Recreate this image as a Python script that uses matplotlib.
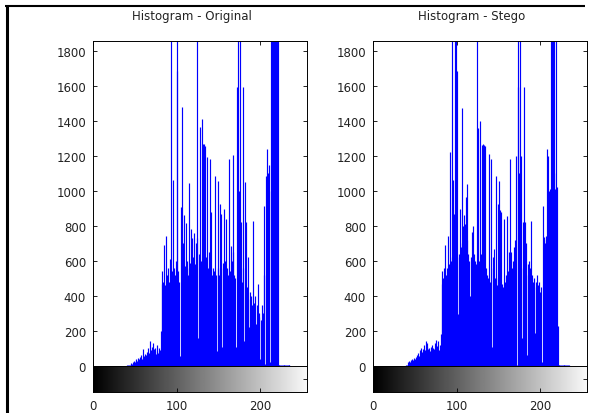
import matplotlib
matplotlib.use('Agg')
import matplotlib.pyplot as plt
import numpy as np
from matplotlib.lines import Line2D

# ---------------- data (counts per gray level 0..255) ----------------
titles = ["Histogram - Original", "Histogram - Stego"]
y_ticks = [0, 200, 400, 600, 800, 1000, 1200, 1400, 1600, 1800]
x_ticks = [0, 100, 200]

orig_counts = [
    0, 0, 0, 0, 0, 0, 0, 0, 0, 0, 0, 0, 0, 0, 0, 0,
    0, 0, 0, 0, 0, 0, 0, 0, 0, 0, 0, 0, 0, 0, 0, 0,
    0, 0, 0, 0, 0, 0, 0, 0, 2, 3, 5, 8, 6, 12, 18, 14,
    25, 30, 22, 35, 40, 28, 45, 38, 52, 48, 60, 42, 95, 55, 70, 62,
    80, 58, 100, 75, 140, 90, 110, 85, 130, 95, 105, 70, 120, 88, 75, 100,
    90, 200, 470, 545, 480, 690, 460, 740, 520, 450, 560, 480, 610, 2600, 125, 540,
    1063, 560, 520, 600, 2400, 1687, 540, 480, 59, 910, 1482, 560, 700, 860, 570, 815,
    600, 560, 520, 1045, 590, 780, 51, 730, 620, 760, 580, 700, 2800, 730, 160, 640,
    1364, 600, 1411, 1269, 150, 1270, 1255, 620, 1192, 560, 90, 650, 1183, 878, 520, 560,
    480, 540, 1088, 520, 85, 560, 1059, 520, 925, 870, 110, 560, 590, 897, 600, 840,
    560, 520, 51, 1185, 540, 688, 600, 1203, 650, 520, 500, 110, 1592, 960, 2500, 1000,
    2300, 820, 480, 560, 1592, 140, 1049, 820, 450, 620, 380, 220, 420, 400, 350, 826,
    360, 320, 400, 240, 350, 470, 300, 280, 40, 260, 350, 300, 916, 520, 10, 1083,
    1240, 1100, 1000, 1150, 20, 2600, 3000, 2200, 5, 2800, 2400, 3200, 2000, 2600, 4, 5,
    3, 6, 4, 5, 3, 6, 4, 5, 3, 4, 5, 3, 0, 0, 0, 0,
    0, 0, 0, 0, 0, 0, 0, 0, 0, 0, 0, 0, 0, 0, 0, 0,
]

stego_counts = [
    0, 0, 0, 0, 0, 0, 0, 0, 0, 0, 0, 0, 0, 0, 0, 0,
    0, 0, 0, 0, 0, 0, 0, 0, 0, 0, 0, 0, 0, 0, 0, 0,
    0, 0, 0, 0, 0, 0, 0, 0, 3, 5, 20, 30, 25, 35, 28, 40,
    32, 45, 38, 50, 42, 60, 75, 55, 90, 65, 100, 80, 95, 120, 90, 145,
    110, 130, 95, 100, 85, 110, 90, 120, 105, 95, 130, 150, 115, 100, 140, 90,
    120, 180, 470, 545, 500, 560, 690, 520, 560, 60, 740, 580, 1225, 600, 2600, 620,
    1065, 870, 2400, 2200, 1687, 620, 297, 640, 897, 680, 1474, 700, 800, 860, 810, 963,
    720, 1040, 640, 600, 400, 620, 765, 580, 800, 640, 600, 580, 2800, 560, 1358, 600,
    1400, 640, 1260, 1270, 1250, 1262, 1255, 560, 520, 500, 280, 1211, 480, 1183, 110, 620,
    560, 670, 500, 1088, 460, 500, 925, 1059, 890, 880, 470, 450, 70, 840, 480, 520,
    859, 105, 540, 650, 1185, 650, 560, 520, 600, 680, 720, 1200, 5, 1592, 2600, 1100,
    2400, 1200, 160, 560, 820, 1592, 820, 700, 60, 580, 520, 600, 560, 826, 520, 480,
    450, 500, 190, 480, 520, 460, 400, 480, 420, 450, 20, 916, 735, 720, 700, 740,
    1240, 1200, 160, 1000, 1010, 2600, 3000, 2400, 1100, 2800, 1010, 2600, 1020, 230, 4, 5,
    3, 6, 4, 5, 3, 6, 4, 5, 3, 4, 5, 0, 0, 0, 0, 0,
    0, 0, 0, 0, 0, 0, 0, 0, 0, 0, 0, 0, 0, 0, 0, 0,
]

series = [orig_counts, stego_counts]
y_max = 1857

# ---------------- figure ----------------
W, H = 597, 414
plt.rcParams['font.family'] = ['DejaVu Sans']
fig = plt.figure(figsize=(W / 100, H / 100), dpi=100)
fig.patch.set_facecolor('white')


def px_rect(l, t, r, b):
    return [l / W, 1 - b / H, (r - l) / W, (b - t) / H]


lefts = [93, 373]
width = 214
levels = np.arange(256)
text_col = '#222222'

for i, (left, counts, title) in enumerate(zip(lefts, series, titles)):
    ax = fig.add_axes(px_rect(left, 42, left + width, 367))
    ax.vlines(levels, 0, counts, colors='#0000ff', linewidth=0.85)
    ax.set_xlim(0, 256)
    ax.set_ylim(0, y_max)
    ax.set_yticks(y_ticks)
    ax.set_xticks(x_ticks)
    ax.set_xticklabels([])
    ax.tick_params(direction='in', length=3, width=0.6, top=True, right=True,
                   labelsize=8.5, pad=5, colors='black', labelcolor=text_col)
    for sp in ax.spines.values():
        sp.set_linewidth(0.7)
    ax.text(0.46, 1.0 + 25 / 325, title, transform=ax.transAxes,
            ha='center', va='center', fontsize=8.5, color=text_col)

    cax = fig.add_axes(px_rect(left, 367, left + width, 393))
    grad = np.arange(256)[None, :]
    cax.imshow(grad, cmap='gray', aspect='auto', extent=(0, 256, 0, 1),
               vmin=0, vmax=262, interpolation='bilinear')
    cax.set_xlim(0, 256)
    cax.set_ylim(0, 1)
    cax.set_xticks(x_ticks)
    cax.set_yticks([0.5])
    cax.set_yticklabels([])
    cax.tick_params(axis='x', direction='in', length=3, width=0.6,
                    labelsize=8.5, pad=5, labelcolor=text_col)
    cax.tick_params(axis='y', direction='in', length=3, width=0.6,
                    left=False, right=True)
    for sp in cax.spines.values():
        sp.set_linewidth(0.7)

# frame lines of the window
fig.add_artist(Line2D([6.5 / W, 6.5 / W], [0, 1 - 6 / H], transform=fig.transFigure,
                      color='black', linewidth=2.2, solid_capstyle='butt'))
fig.add_artist(Line2D([5 / W, 585 / W], [1 - 7 / H, 1 - 7 / H], transform=fig.transFigure,
                      color='black', linewidth=1.5, solid_capstyle='butt'))

fig.savefig('out.png', dpi=100)
